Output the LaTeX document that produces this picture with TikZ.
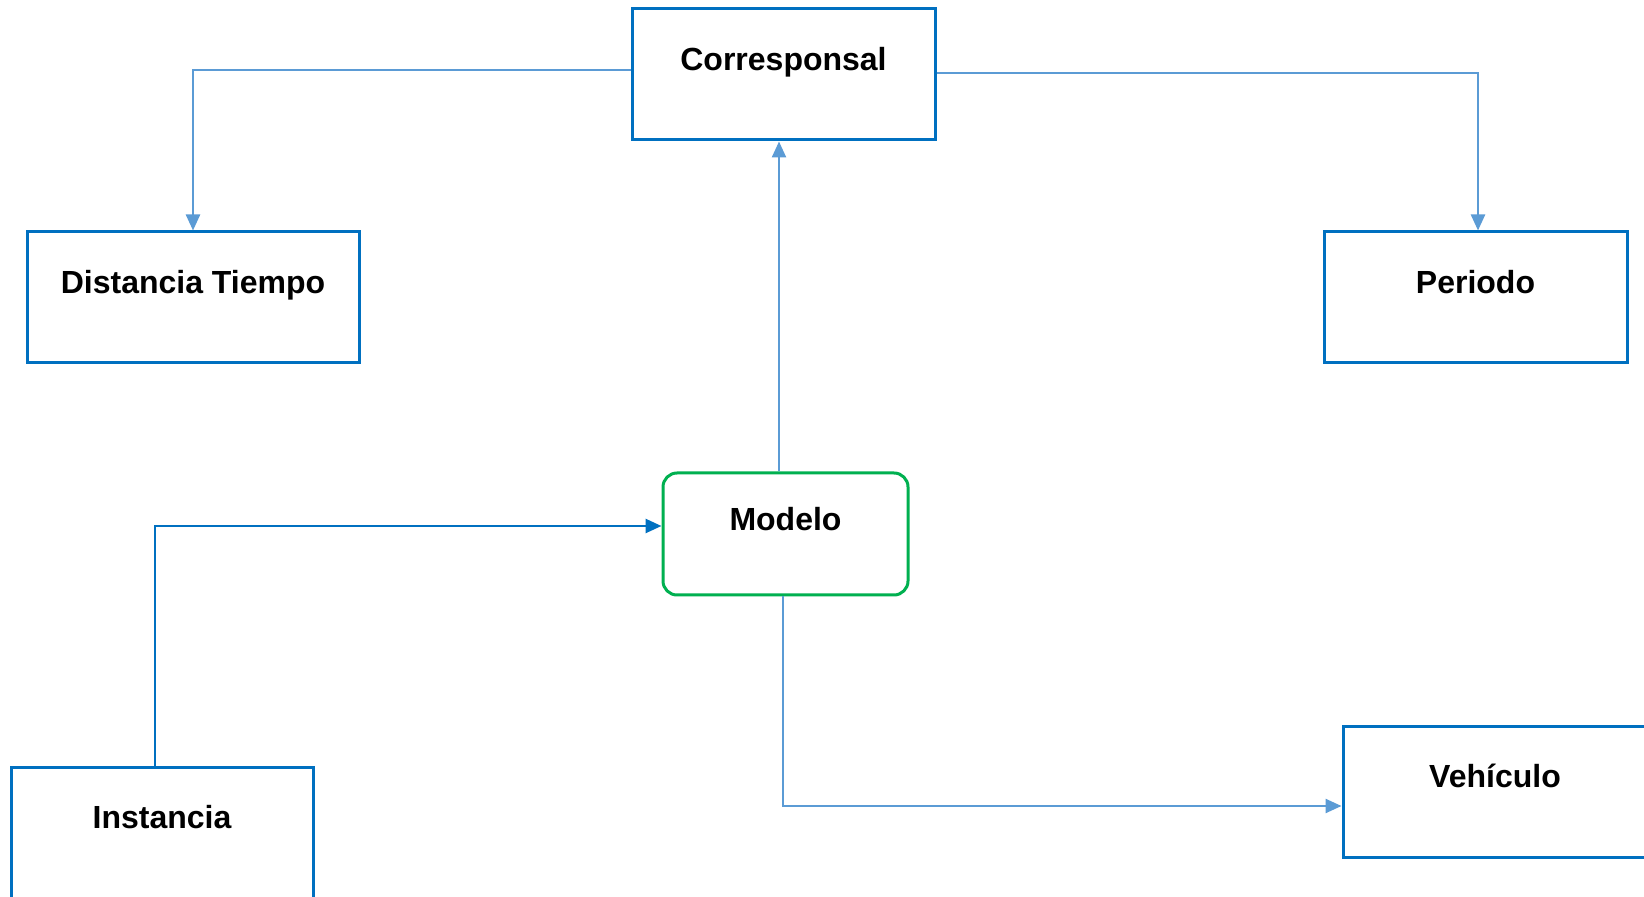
\documentclass[tikz,border=0pt]{standalone}
\usepackage{fontspec}
\setmainfont{Liberation Sans}
\usetikzlibrary{arrows.meta}
\definecolor{boxblue}{HTML}{0070C0}
\definecolor{connblue}{HTML}{5B9BD5}
\definecolor{boxgreen}{HTML}{00B050}
\begin{document}
\begin{tikzpicture}[x=0.5pt,y=-0.5pt,
  box/.style={draw=boxblue, line width=1.5pt, fill=white, rectangle, inner sep=0pt},
  lbl/.style={font=\fontsize{16}{19}\selectfont\bfseries, text height=0.75em, text depth=0.22em, anchor=center, yshift=-28.9pt},
  conn/.style={draw=connblue, line width=1.2pt, -{Triangle[length=8pt,width=7pt]}},
  connd/.style={draw=boxblue, line width=1.3pt, -{Triangle[length=8pt,width=7pt]}}]
\useasboundingbox (0,0) rectangle (1644,897);
\fill[white] (0,0) rectangle (1644,897);
\node[box, minimum width=151.5pt, minimum height=65.5pt, label={[lbl]north:Corresponsal}] (corr) at (783.5,74.5) {};
\node[box, minimum width=166pt, minimum height=65.5pt, label={[lbl]north:Distancia Tiempo}] (dist) at (193,297.5) {};
\node[box, minimum width=151.5pt, minimum height=65.5pt, label={[lbl]north:Periodo}] (peri) at (1475.5,297.5) {};
\node[box, draw=boxgreen, rounded corners=7pt, minimum width=122.5pt, minimum height=61pt, label={[lbl,yshift=2pt]north:Modelo}] (mod) at (785.5,534) {};
\node[box, minimum width=151pt, minimum height=65.5pt, label={[lbl]north:Instancia}] (inst) at (162,832.5) {};
\node[box, minimum width=152pt, minimum height=65.5pt, label={[lbl]north:Vehículo}] (veh) at (1495,791.5) {};
\draw[conn] ([yshift=2.25pt]corr.west) -| (dist.north);
\draw[conn] ([yshift=0.75pt]corr.east) -| ([xshift=1.25pt]peri.north);
\draw[conn] ([xshift=-3.25pt]mod.north) -- ([xshift=-3.25pt]mod.north |- corr.south);
\draw[connd] ([xshift=-3.5pt]inst.north) |- ([yshift=4pt]mod.west);
\draw[conn] ([xshift=-1.25pt]mod.south) |- ([yshift=-7.25pt]veh.west);
\end{tikzpicture}
\end{document}
